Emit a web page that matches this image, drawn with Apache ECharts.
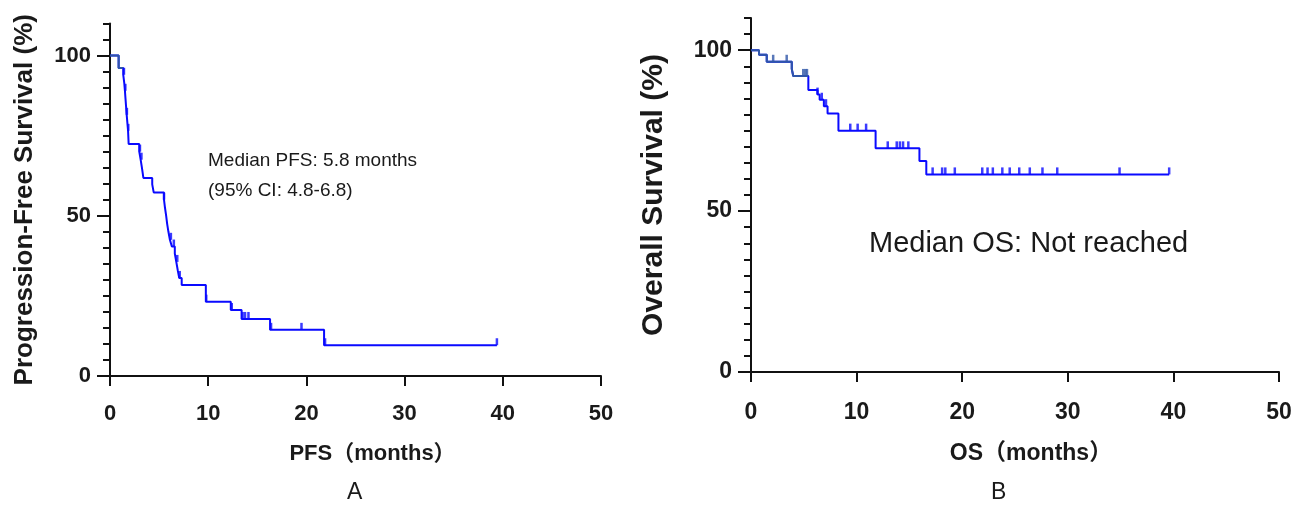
<!DOCTYPE html>
<html><head><meta charset="utf-8">
<script src="https://cdn.jsdelivr.net/npm/echarts@6/dist/echarts.min.js"></script>
<style>html,body{margin:0;padding:0;background:#fff}#c{width:1311px;height:505px}</style>
</head><body><div id="c"></div>
<script>
// PFS Kaplan-Meier step points [months, survival %]
const pfsSteps = [[0,100],[0.88,96.1],[1.35,94],[1.45,91.5],[1.52,89],[1.58,86.5],[1.64,84],[1.7,81.5],[1.77,79],[1.84,76.5],[1.9,72.4],
  [2.98,70],[3.12,67.5],[3.25,65],[3.4,61.8],[4.3,59.8],[4.45,57.3],
  [5.5,55],[5.6,52.5],[5.72,50],[5.82,47.5],[5.95,45],[6.1,42.5],[6.3,40.4],[6.6,38.2],[6.75,35.6],[6.9,33],[7.05,30.6],[7.3,28.4],
  [9.76,23.2],[12.3,20.6],[13.4,17.8],[16.3,14.4],[21.8,9.6],[39.4,9.6]];
const pfsCensor = [1.42,1.56,1.72,1.86,3.05,3.2,5.5,6.2,6.5,6.85,7.1,9.8,12.4,13.5,13.75,14.1,16.4,19.5,21.9,39.4];
// OS Kaplan-Meier step points
const osSteps = [[0,100],[0.76,98.6],[1.49,96.4],[3.86,94.2],[4.0,92.0],[5.43,87.6],[6.3,86.2],[6.5,84.6],[6.9,82.6],[7.25,80.3],[8.28,75.0],
  [11.8,69.5],[15.95,65.6],[16.6,61.4],[39.6,61.4]];
const osCensor = [2.1,3.38,4.95,5.15,5.3,6.3,6.7,7.1,9.4,10.1,10.9,12.95,13.8,14.1,14.4,14.9,17.2,18.1,18.4,19.3,21.9,22.4,22.9,23.8,24.5,25.4,26.4,27.6,29.0,34.9,39.6];
const xTicks = [0,10,20,30,40,50];
const yLabels = [0,50,100];
const yMinor = [5,10,15,20,25,30,35,40,45,55,60,65,70,75,80,85,90,95,105,110];
const pfsDarkUntil = 1.35, osDarkUntil = 5.43;

const FONT = '"Liberation Sans", Arial, "Noto Sans CJK SC", sans-serif';
const BLUE = '#0a0aff', DARK = '#2f56a8', INK = '#1a1a1a';

function survAt(steps, t){ let s = steps[0][1]; for (const p of steps){ if (p[0] <= t + 1e-9) s = p[1]; } return s; }
function darkPart(steps, until){ const d = steps.filter(p => p[0] < until); d.push([until, survAt(steps, until - 1e-6)]); return d; }
function censorPts(steps, arr){ return arr.map(t => [t, survAt(steps, t)]); }

const chart = echarts.init(document.getElementById('c'), null, {renderer:'canvas'});
const axisLine = {lineStyle:{color:'#111', width:2}};
function xAxis(gi, name, gap, nameSize, labelSize, margin, padLeft){
  return {gridIndex:gi, type:'value', min:0, max:50, interval:10, name:name, nameLocation:'middle', nameGap:gap,
    nameTextStyle:{fontFamily:FONT, fontWeight:'bold', fontSize:nameSize, color:INK, padding:[0,0,0,padLeft]},
    axisLine:axisLine, axisTick:{show:true, length:10, customValues:xTicks, lineStyle:{color:'#111', width:2}},
    axisLabel:{fontFamily:FONT, fontWeight:'bold', fontSize:labelSize, color:INK, margin:margin, customValues:xTicks},
    splitLine:{show:false}};
}
function yAxis(gi, name, gap, nameSize, labelSize){
  return {gridIndex:gi, type:'value', min:0, max:110, position:'left', name:name, nameLocation:'middle', nameGap:gap,
    nameTextStyle:{fontFamily:FONT, fontWeight:'bold', fontSize:nameSize, color:INK},
    axisLine:axisLine,
    axisTick:{show:true, length:13, customValues:yLabels, lineStyle:{color:'#111', width:2}},
    axisLabel:{fontFamily:FONT, fontWeight:'bold', fontSize:labelSize, color:INK, margin:19, customValues:yLabels},
    splitLine:{show:false}};
}
function yMinorAxis(gi){
  return {gridIndex:gi, type:'value', min:0, max:110, position:'left', offset:0, axisLine:{show:false},
    axisTick:{show:true, length:7, customValues:yMinor, lineStyle:{color:'#111', width:2}},
    axisLabel:{show:false}, splitLine:{show:false}};
}
function lineS(xi, yi, data, color){
  return {type:'line', xAxisIndex:xi, yAxisIndex:yi, data:data, step:'end', symbol:'none', silent:true,
    lineStyle:{color:color, width:2}, z:3};
}
function censS(xi, yi, data, color){
  return {type:'scatter', xAxisIndex:xi, yAxisIndex:yi, data:data, symbol:'rect', symbolSize:[2.5,7], symbolOffset:[0,-3.5],
    itemStyle:{color:color}, silent:true, z:4};
}

chart.setOption({
  animation:false,
  grid:[{left:110, top:23.5, width:491, height:352.5}, {left:751, top:18, width:528, height:354}],
  xAxis:[xAxis(0,'PFS（months）',67,22,22,27,34), xAxis(1,'OS（months）',70,23,23,29,32)],
  yAxis:[yAxis(0,'Progression-Free Survival (%)',72,26,22), yAxis(1,'Overall Survival (%)',82,30,23), yMinorAxis(0), yMinorAxis(1)],
  series:[
    lineS(0,0,pfsSteps,BLUE), lineS(0,0,darkPart(pfsSteps,pfsDarkUntil),DARK), censS(0,0,censorPts(pfsSteps,pfsCensor),BLUE),
    lineS(1,1,osSteps,BLUE), lineS(1,1,darkPart(osSteps,osDarkUntil),DARK),
    censS(1,1,censorPts(osSteps,osCensor.filter(t=>t>=osDarkUntil)),BLUE), censS(1,1,censorPts(osSteps,osCensor.filter(t=>t<osDarkUntil)),DARK)
  ],
  graphic:[
    {type:'text', left:208, top:151, style:{text:'Median PFS: 5.8 months', font:'19px '+FONT, fill:INK}},
    {type:'text', left:208, top:181, style:{text:'(95% CI: 4.8-6.8)', font:'19px '+FONT, fill:INK}},
    {type:'text', left:869, top:229, style:{text:'Median OS: Not reached', font:'29px '+FONT, fill:INK}},
    {type:'text', left:347, top:481, style:{text:'A', font:'23px '+FONT, fill:INK}},
    {type:'text', left:991, top:481, style:{text:'B', font:'23px '+FONT, fill:INK}}
  ]
});
</script></body></html>
